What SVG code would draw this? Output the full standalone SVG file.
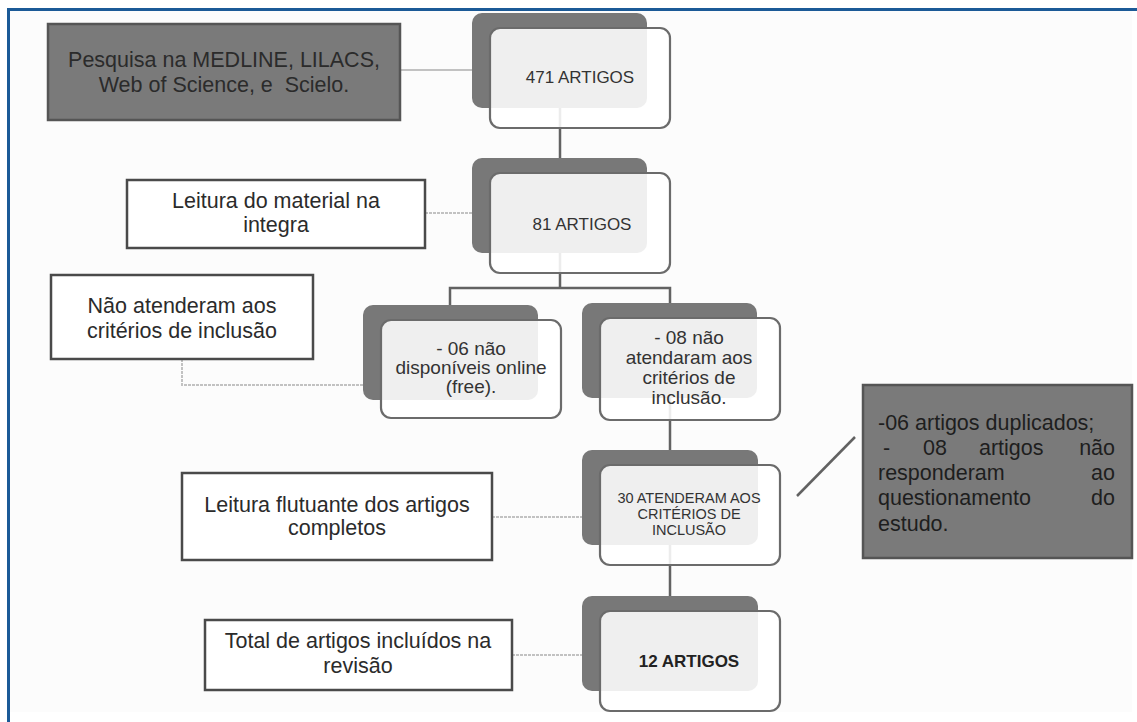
<svg xmlns="http://www.w3.org/2000/svg" width="1137" height="722" viewBox="0 0 1137 722">
<style>
.back{fill:#787878}
.front{fill:#fff;fill-opacity:.88;stroke:#6b6b6b;stroke-width:2.2}
.conn{stroke:#626262;stroke-width:2.5;fill:none}
.lconn{stroke:#c2c2c2;stroke-width:2;stroke-dasharray:3 1;fill:none}
.solid{stroke-dasharray:none}
.box{fill:#fff;stroke:#4a4a4a;stroke-width:2.5}
.dbox{fill:#7a7a7a;stroke:#555;stroke-width:2.5}
text{font-family:"Liberation Sans",Arial,sans-serif;fill:#2b2b2b}
.lt{font-size:21.5px;text-anchor:middle}
.nt{font-size:17px;text-anchor:middle;fill:#333}
.st{font-size:19px;text-anchor:middle;fill:#333}
.ct{font-size:14.5px;text-anchor:middle;fill:#333}
.rt{font-size:21.5px;fill:#1e1e1e}
</style>
<rect x="0" y="0" width="1137" height="722" fill="#fff"/>
<rect x="8" y="8" width="1124" height="704" fill="#fcfcfc"/>
<line x1="7" y1="9.5" x2="1137" y2="9.5" stroke="#1b5a97" stroke-width="3"/>
<line x1="8.5" y1="8" x2="8.5" y2="722" stroke="#1b5a97" stroke-width="3"/>

<g id="connectors">
  <line class="lconn solid" x1="400" y1="70" x2="472" y2="70"/>
  <line class="lconn" x1="425" y1="213" x2="472" y2="213"/>
  <polyline class="lconn" points="182,359 182,385 363,385"/>
  <line class="lconn" x1="492" y1="517" x2="582" y2="517"/>
  <line class="lconn" x1="512" y1="655" x2="582" y2="655"/>
  <line class="conn" x1="560" y1="108" x2="560" y2="158"/>
  <line class="conn" x1="560" y1="253" x2="560" y2="288"/>
  <polyline class="conn" points="450,305 450,288 670,288 670,303"/>
  <line class="conn" x1="670" y1="398" x2="670" y2="450"/>
  <line class="conn" x1="670" y1="545" x2="670" y2="597"/>
  <line class="conn" x1="797" y1="496" x2="855" y2="437"/>
</g>

<g id="pesquisa">
  <rect class="dbox" x="48" y="24" width="352" height="96"/>
  <text class="lt" x="224" y="67" fill="#1e1e1e">Pesquisa na MEDLINE, LILACS,</text>
  <text class="lt" x="224" y="92" xml:space="preserve">Web of Science, e  Scielo.</text>
</g>

<g id="n471">
  <rect class="back" x="472" y="13" width="175" height="95" rx="10"/>
  <rect class="front" x="490" y="28" width="180" height="100" rx="10"/>
  <text class="nt" x="580" y="83">471 ARTIGOS</text>
</g>

<g id="leitura-material">
  <rect class="box" x="127" y="180" width="298" height="68"/>
  <text class="lt" x="276" y="208">Leitura do material na</text>
  <text class="lt" x="276" y="232">integra</text>
</g>

<g id="n81">
  <rect class="back" x="472" y="158" width="175" height="95" rx="10"/>
  <rect class="front" x="490" y="173" width="180" height="100" rx="10"/>
  <text class="nt" x="582" y="230">81 ARTIGOS</text>
</g>

<g id="nao-atenderam">
  <rect class="box" x="51" y="275" width="262" height="84"/>
  <text class="lt" x="182" y="313">Não atenderam aos</text>
  <text class="lt" x="182" y="338">critérios de inclusão</text>
</g>

<g id="n06">
  <rect class="back" x="363" y="305" width="175" height="95" rx="10"/>
  <rect class="front" x="381" y="320" width="180" height="98" rx="10"/>
  <text class="st" x="471" y="355">- 06 não</text>
  <text class="st" x="471" y="374">disponíveis online</text>
  <text class="st" x="471" y="393">(free).</text>
</g>

<g id="n08">
  <rect class="back" x="582" y="303" width="175" height="95" rx="10"/>
  <rect class="front" x="600" y="318" width="180" height="102" rx="10"/>
  <text class="st" x="689" y="344">- 08 não</text>
  <text class="st" x="689" y="364">atendaram aos</text>
  <text class="st" x="689" y="384">critérios de</text>
  <text class="st" x="689" y="404">inclusão.</text>
</g>

<g id="leitura-flutuante">
  <rect class="box" x="182" y="473" width="310" height="87"/>
  <text class="lt" x="337" y="512">Leitura flutuante dos artigos</text>
  <text class="lt" x="337" y="535">completos</text>
</g>

<g id="n30">
  <rect class="back" x="582" y="450" width="176" height="95" rx="10"/>
  <rect class="front" x="600" y="465" width="180" height="100" rx="10"/>
  <text class="ct" x="689" y="503">30 ATENDERAM AOS</text>
  <text class="ct" x="689" y="519">CRITÉRIOS DE</text>
  <text class="ct" x="689" y="535">INCLUSÃO</text>
</g>

<g id="duplicados">
  <rect class="dbox" x="863" y="385" width="269" height="173"/>
  <text class="rt" x="878" y="430">-06 artigos duplicados;</text>
  <text class="rt" y="455"><tspan x="883">-</tspan><tspan x="923">08</tspan><tspan x="979">artigos</tspan><tspan x="1115" text-anchor="end">não</tspan></text>
  <text class="rt" y="480"><tspan x="878">responderam</tspan><tspan x="1115" text-anchor="end">ao</tspan></text>
  <text class="rt" y="505"><tspan x="878">questionamento</tspan><tspan x="1115" text-anchor="end">do</tspan></text>
  <text class="rt" x="878" y="531">estudo.</text>
</g>

<g id="total">
  <rect class="box" x="205" y="620" width="307" height="70"/>
  <text class="lt" x="358" y="648">Total de artigos incluídos na</text>
  <text class="lt" x="358" y="673">revisão</text>
</g>

<g id="n12">
  <rect class="back" x="582" y="596" width="176" height="95" rx="10"/>
  <rect class="front" x="600" y="611" width="180" height="100" rx="10"/>
  <text x="689" y="667" style="font-size:17px;font-weight:bold;text-anchor:middle;fill:#222">12 ARTIGOS</text>
</g>
</svg>
